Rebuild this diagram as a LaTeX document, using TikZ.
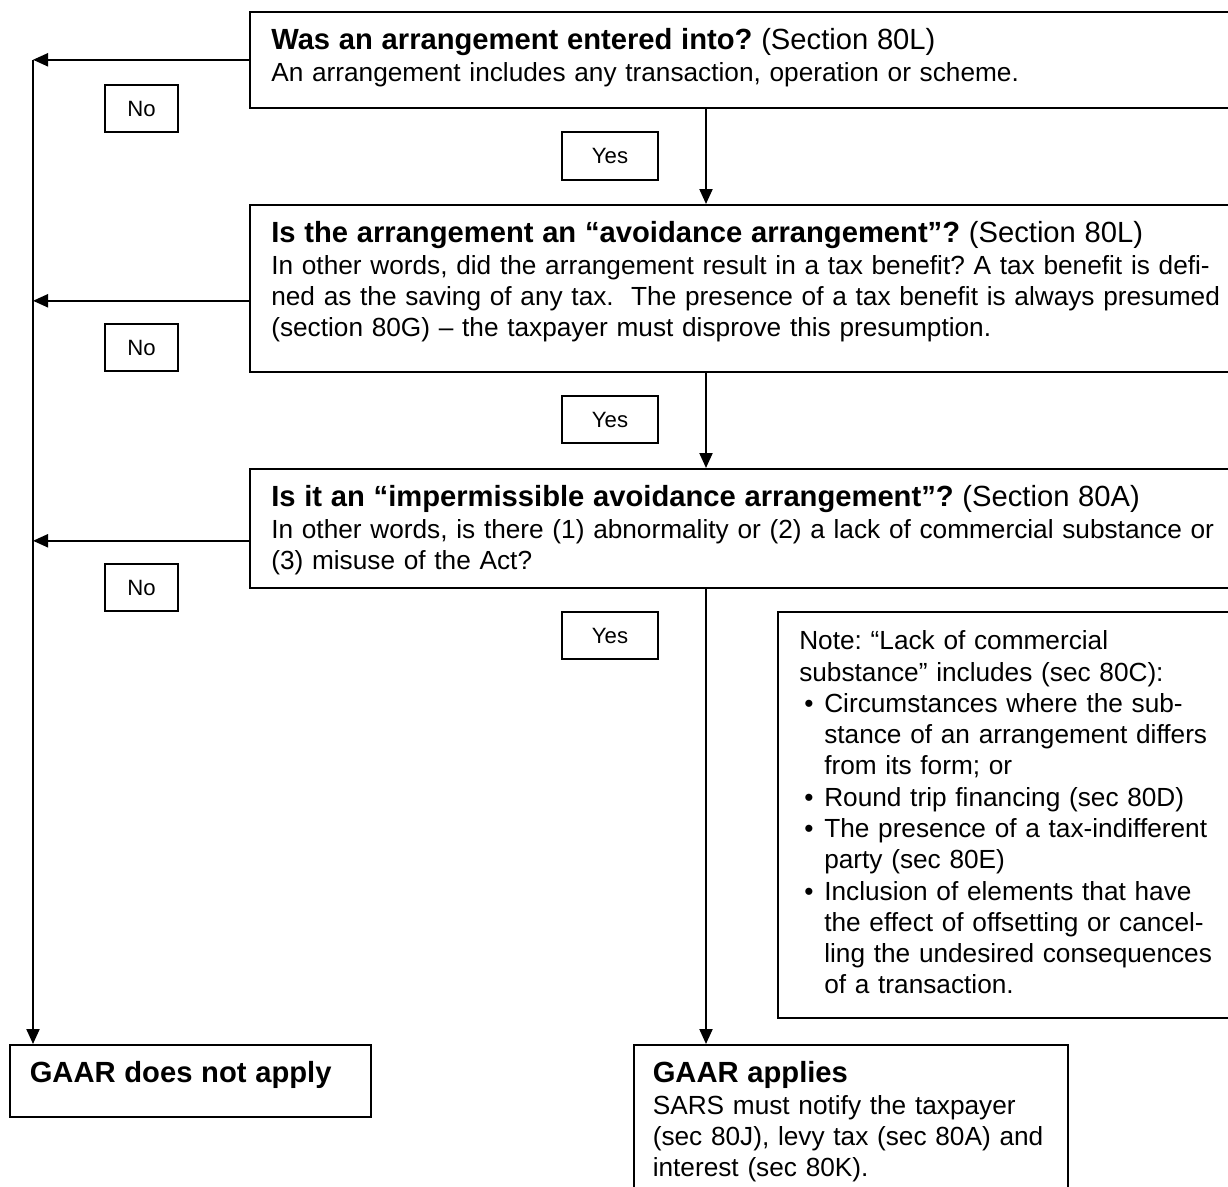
\documentclass[tikz,border=0pt]{standalone}
\usepackage{fontspec}
\setmainfont{Liberation Sans}
\usetikzlibrary{arrows.meta}

\newcommand{\qhead}[2]{{\fontsize{16.6pt}{19pt}\selectfont\textbf{#1} #2\par}}
\newcommand{\notebullet}{\makebox[0.5cm][l]{\hspace{0.1cm}\textbullet}}
\newcommand{\noteindent}{\hspace*{0.5cm}}

\tikzset{
    qbox/.style={draw, line width=0.9pt, anchor=north west, align=left, inner xsep=0.43cm, inner ysep=0pt, text height=0.76cm, font=\fontsize{14.92pt}{17.8pt}\selectfont\frenchspacing},
    tag/.style={draw, line width=0.9pt, minimum height=0.95cm, inner sep=0pt, font=\fontsize{12.6pt}{15pt}\selectfont},
    flow/.style={line width=1.2pt, -{Triangle[length=0.3cm,width=0.26cm]}}
}

\begin{document}
\begin{tikzpicture}
            \useasboundingbox (0,0) rectangle (24.56,-23.72);
            \clip (0,0) rectangle (24.56,-23.72);

            \coordinate (rail) at (0.66,0);
            \coordinate (spine) at (14.12,0);

            \node[qbox, text width=19.6cm, text depth=1.16cm] (arr) at (4.98,-0.22)
                {\qhead{Was an arrangement entered into?}{(Section 80L)}
                An arrangement includes any transaction, operation or scheme.};
            \node[qbox, text width=19.6cm, text depth=2.58cm] (avoid) at (4.98,-4.08)
                {\qhead{Is the arrangement an “avoidance arrangement”?}{(Section 80L)}
                In other words, did the arrangement result in a tax benefit? A tax benefit is defi-\\
                ned as the saving of any tax.\ \ The presence of a tax benefit is always presumed\\
                (section 80G) – the taxpayer must disprove this presumption.};
            \node[qbox, text width=19.6cm, text depth=1.62cm] (imperm) at (4.98,-9.36)
                {\qhead{Is it an “impermissible avoidance arrangement”?}{(Section 80A)}
                In other words, is there (1) abnormality or (2) a lack of commercial substance or\\
                (3) misuse of the Act?};

            \node[qbox, text width=8.6cm, text depth=7.36cm] (note) at (15.54,-12.22)
                {Note: “Lack of commercial\\
                substance” includes (sec 80C):\\
                \notebullet Circumstances where the sub-\\
                \noteindent stance of an arrangement differs\\
                \noteindent from its form; or\\
                \notebullet Round trip financing (sec 80D)\\
                \notebullet The presence of a tax-indifferent\\
                \noteindent party (sec 80E)\\
                \notebullet Inclusion of elements that have\\
                \noteindent the effect of offsetting or cancel-\\
                \noteindent ling the undesired consequences\\
                \noteindent of a transaction.};

            \node[qbox, inner xsep=0.38cm, text width=7.92cm, text depth=2.36cm] (applies) at (12.66,-20.88)
                {\qhead{GAAR applies}{}
                SARS must notify the taxpayer\\
                (sec 80J), levy tax (sec 80A) and\\
                interest (sec 80K).};
            \node[qbox, inner xsep=0.4cm, text width=6.42cm, text depth=0.68cm] (noapply) at (0.18,-20.88)
                {\qhead{GAAR does not apply}{}};

            \node[tag, minimum width=1.46cm] (no1) at (2.83,-2.17) {No};
            \node[tag, minimum width=1.46cm] (no2) at (2.83,-6.95) {No};
            \node[tag, minimum width=1.46cm] (no3) at (2.83,-11.75) {No};
            \node[tag, minimum width=1.92cm] (yes1) at (12.2,-3.12) {Yes\hspace{0.3cm}};
            \node[tag, minimum width=1.92cm] (yes2) at (12.2,-8.39) {Yes\hspace{0.3cm}};
            \node[tag, minimum width=1.92cm] (yes3) at (12.2,-12.71) {Yes\hspace{0.3cm}};

            \draw[flow] (arr.west) -- (arr.west -| rail);
            \draw[flow] ([yshift=-0.25cm]avoid.west) -- ([yshift=-0.25cm]avoid.west -| rail);
            \draw[flow] ([yshift=-0.25cm]imperm.west) -- ([yshift=-0.25cm]imperm.west -| rail);
            \draw[flow] (arr.west -| rail) -- (noapply.north -| rail);

            \draw[flow] (arr.south -| spine) -- (avoid.north -| spine);
            \draw[flow] (avoid.south -| spine) -- (imperm.north -| spine);
            \draw[flow] (imperm.south -| spine) -- (applies.north -| spine);
      \end{tikzpicture}
\end{document}
